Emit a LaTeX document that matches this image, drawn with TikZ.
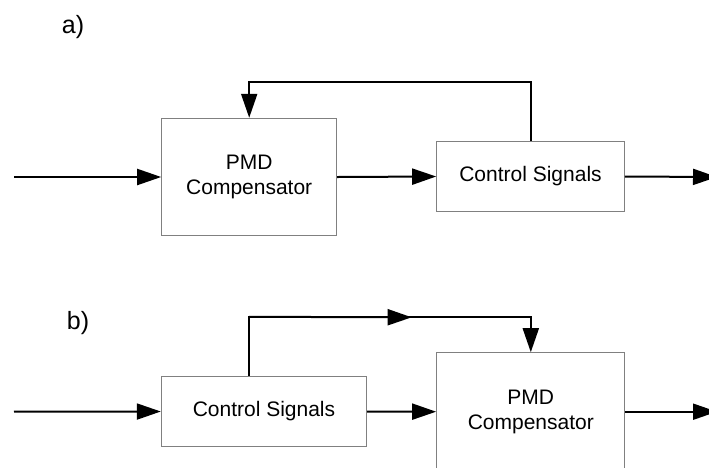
\documentclass[tikz,border=0pt]{standalone}
\usepackage{fontspec}
\setmainfont{Liberation Sans}
\usetikzlibrary{arrows.meta}
\definecolor{boxgray}{RGB}{128,128,128}
\tikzset{
  blockbox/.style={draw=boxgray, line width=1pt, fill=white, align=center, inner sep=0pt,
    font=\fontsize{21}{25}\selectfont},
  conn/.style={line width=2pt, -{Triangle[length=24pt,width=16pt]}},
  plainconn/.style={line width=2pt},
  panellabel/.style={anchor=base west, inner sep=0pt, font=\fontsize{25}{30}\selectfont}
}
\begin{document}
\begin{tikzpicture}[x=1pt,y=-1pt]
\useasboundingbox (0,0) rectangle (709,467);
% ---- a)
\node[panellabel] (la) at (61.7,33.3) {a)};
\node[blockbox, minimum width=175pt, minimum height=117.4pt] (pmdA) at (249.2,177) {PMD\\Compensator};
\node[blockbox, minimum width=187.6pt, minimum height=70.4pt] (csA) at (530.5,176.5) {Control Signals};
\coordinate (inA) at (14,177);
\coordinate (outA) at (717,177);
\draw[conn] (inA) -- (pmdA.west);
\draw[conn] (pmdA.east) -- (csA.west);
\draw[conn] (csA.east) -- (outA);
\draw[conn] (csA.north) -- ++(0,-58.8) -| (pmdA.north);
% ---- b)
\node[panellabel] (lb) at (66.7,329) {b)};
\node[blockbox, minimum width=205.4pt, minimum height=70.4pt] (csB) at (264,411.5) {Control Signals};
\node[blockbox, minimum width=188.3pt, minimum height=118pt] (pmdB) at (530.8,411.7) {PMD\\Compensator};
\coordinate (inB) at (14,411.7);
\coordinate (outB) at (717,411.7);
\coordinate (midtip) at (411.7,317.3);
\draw[conn] (inB) -- (csB.west);
\draw[conn] (csB.east) -- (pmdB.west);
\draw[conn] (pmdB.east) -- (outB);
\draw[conn] (csB.north -| pmdA.north) -- ++(0,-59) -| (pmdB.north);
\draw[conn] (csB.north -| pmdA.north) ++(0,-59) -- (midtip);
\end{tikzpicture}
\end{document}
